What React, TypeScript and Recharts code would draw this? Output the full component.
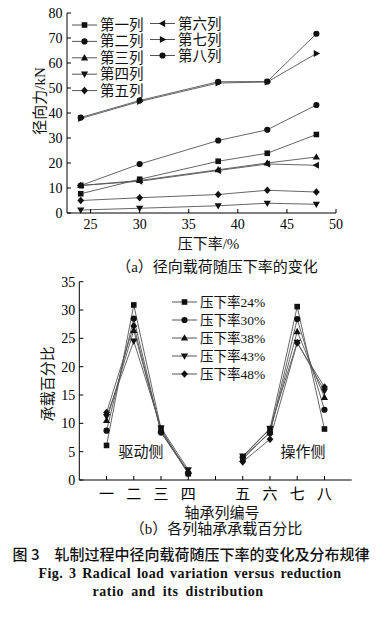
import React from "react";
import { LineChart, Line, XAxis, YAxis } from "recharts";

// (a) radial force vs reduction ratio
const reductionRates = [24, 30, 38, 43, 48];
const row1 = [7.7, 13.5, 20.7, 23.9, 31.4];
const row2 = [38.2, 45.0, 52.5, 52.6, 71.7];
const row3 = [11.0, 13.0, 17.3, 20.0, 22.4];
const row4 = [1.2, 1.9, 2.9, 3.9, 3.5];
const row5 = [5.0, 6.1, 7.4, 9.1, 8.4];
const row6 = [11.0, 12.7, 17.0, 19.6, 19.1];
const row7 = [37.8, 44.6, 52.0, 52.4, 63.8];
const row8 = [11.0, 19.6, 29.0, 33.3, 43.2];
const rowNames = ["第一列", "第二列", "第三列", "第四列", "第五列", "第六列", "第七列", "第八列"];
const rowShapes = ["square", "circle", "up", "down", "diamond", "left", "right", "circle"];
const rowSeries = [row1, row2, row3, row4, row5, row6, row7, row8];
const forceTicks = [0, 10, 20, 30, 40, 50, 60, 70, 80];
const rateTicks = [25, 30, 35, 40, 45, 50];

// (b) load share of each bearing row
const bearingPos = [1, 2, 3, 4, 5, 6, 7, 8, 9];
const bearingLabels = ["一", "二", "三", "四", "", "五", "六", "七", "八"];
const share24 = [6.1, 30.9, 9.0, 1.1, null, 4.1, 9.0, 30.6, 9.0];
const share30 = [8.7, 28.5, 8.4, 1.2, null, 4.0, 8.3, 28.4, 12.4];
const share38 = [10.5, 26.4, 8.7, 1.5, null, 3.7, 8.5, 26.2, 14.6];
const share43 = [11.2, 24.5, 9.2, 1.8, null, 4.2, 9.1, 24.3, 15.7];
const share48 = [11.9, 27.2, 8.5, 1.3, null, 3.2, 7.2, 24.2, 16.4];
const shareNames = ["压下率24%", "压下率30%", "压下率38%", "压下率43%", "压下率48%"];
const shareShapes = ["square", "circle", "up", "down", "diamond"];
const shareSeries = [share24, share30, share38, share43, share48];
const shareTicks = [0, 5, 10, 15, 20, 25, 30, 35];

const dataA = reductionRates.map((rate, i) => {
  const row: Record<string, number> = { rate };
  rowSeries.forEach((s, k) => (row["r" + k] = s[i]));
  return row;
});
const dataB = bearingPos.map((pos, i) => {
  const row: Record<string, number | null> = { pos };
  shareSeries.forEach((s, k) => (row["s" + k] = s[i]));
  return row;
});

const SERIF = "'Liberation Serif', 'Noto Sans CJK SC', serif";
const INK = "#111";
const LINE = "#555";

function Marker({ shape, cx, cy }: { shape: string; cx: number; cy: number }) {
  const s = 3.2;
  switch (shape) {
    case "square":
      return <rect x={cx - 2.8} y={cy - 2.8} width={5.6} height={5.6} fill={INK} />;
    case "circle":
      return <circle cx={cx} cy={cy} r={3.1} fill={INK} />;
    case "up":
      return <polygon points={`${cx},${cy - s - 0.6} ${cx + s + 0.4},${cy + s - 0.6} ${cx - s - 0.4},${cy + s - 0.6}`} fill={INK} />;
    case "down":
      return <polygon points={`${cx},${cy + s + 0.6} ${cx + s + 0.4},${cy - s + 0.6} ${cx - s - 0.4},${cy - s + 0.6}`} fill={INK} />;
    case "left":
      return <polygon points={`${cx - s - 0.6},${cy} ${cx + s - 0.6},${cy - s - 0.4} ${cx + s - 0.6},${cy + s + 0.4}`} fill={INK} />;
    case "right":
      return <polygon points={`${cx + s + 0.6},${cy} ${cx - s + 0.6},${cy - s - 0.4} ${cx - s + 0.6},${cy + s + 0.4}`} fill={INK} />;
    default:
      return <polygon points={`${cx},${cy - 3.8} ${cx + 3.4},${cy} ${cx},${cy + 3.8} ${cx - 3.4},${cy}`} fill={INK} />;
  }
}

const dotFor = (shape: string) => (p: any) =>
  p.cy == null || p.cx == null ? (
    <g key={`e-${p.index}`} />
  ) : (
    <Marker key={`d-${p.index}`} shape={shape} cx={p.cx} cy={p.cy} />
  );

const tickStyle = { fill: "#000", fontSize: 14, fontFamily: SERIF };

function LegendItem({ x, y, shape, name, size }: { x: number; y: number; shape: string; name: string; size: number }) {
  return (
    <g>
      <line x1={x} y1={y} x2={x + 25} y2={y} stroke={LINE} strokeWidth={1} />
      <Marker shape={shape} cx={x + 12.5} cy={y} />
      <text x={x + 28} y={y} dominantBaseline="central" fontSize={size} fontFamily={SERIF} fill="#111">
        {name}
      </text>
    </g>
  );
}

export default function App() {
  return (
    <div style={{ position: "absolute", left: 0, top: 0, width: 383, height: 617, background: "#fff" }}>
      <div style={{ position: "absolute", left: 0, top: 0 }}>
        <LineChart width={383} height={260} data={dataA} margin={{ top: 13, right: 47, left: 0, bottom: 8 }}>
          <XAxis
            dataKey="rate"
            type="number"
            domain={[22.6, 50]}
            ticks={rateTicks}
            stroke="#000"
            tick={tickStyle}
            tickSize={-4}
            tickMargin={10}
            height={39}
            label={{
              content: ({ viewBox }: any) => (
                <text x={viewBox.x + viewBox.width / 2 + 7} y={viewBox.y + 31} textAnchor="middle" dominantBaseline="central" fontSize={15} fontFamily={SERIF} fill="#111">
                  压下率/%
                </text>
              ),
            }}
          />
          <XAxis xAxisId="top" orientation="top" dataKey="rate" type="number" domain={[22.6, 50]} height={0} tick={false} tickLine={false} stroke="#000" />
          <YAxis
            type="number"
            domain={[0, 80]}
            ticks={forceTicks}
            stroke="#000"
            tick={tickStyle}
            tickSize={-4}
            tickMargin={8.5}
            width={67}
            label={{
              content: ({ viewBox }: any) => {
                const cx = 40;
                const cy = viewBox.y + viewBox.height / 2 - 12;
                return (
                  <text x={cx} y={cy} transform={`rotate(-90 ${cx} ${cy})`} textAnchor="middle" dominantBaseline="central" fontSize={15} fontFamily={SERIF} fill="#111">
                    径向力/kN
                  </text>
                );
              },
            }}
          />
          <YAxis yAxisId="right" orientation="right" domain={[0, 80]} width={0} tick={false} tickLine={false} stroke="#000" />
          {rowNames.map((name, k) => (
            <Line
              key={name}
              name={name}
              dataKey={"r" + k}
              stroke={LINE}
              strokeWidth={0.9}
              dot={dotFor(rowShapes[k])}
              isAnimationActive={false}
            />
          ))}
        </LineChart>
      </div>

      <div style={{ position: "absolute", left: 0, top: 270 }}>
        <LineChart width={383} height={240} data={dataB} margin={{ top: 11.7, right: 31.3, left: 0, bottom: 0 }}>
          <XAxis
            dataKey="pos"
            type="number"
            domain={[0, 10]}
            ticks={bearingPos}
            tickFormatter={(v: number) => bearingLabels[v - 1]}
            stroke="#000"
            tick={{ fill: "#000", fontSize: 15, fontFamily: SERIF }}
            tickSize={-4}
            tickMargin={12}
            height={30}
          />
          <XAxis xAxisId="top" orientation="top" dataKey="pos" type="number" domain={[0, 10]} height={0} tick={false} tickLine={false} stroke="#000" />
          <YAxis
            type="number"
            domain={[0, 35]}
            ticks={shareTicks}
            stroke="#000"
            tick={tickStyle}
            tickSize={-4}
            tickMargin={8}
            width={79.3}
            label={{
              content: ({ viewBox }: any) => {
                const cx = 48;
                const cy = viewBox.y + viewBox.height / 2 + 3;
                return (
                  <text x={cx} y={cy} transform={`rotate(-90 ${cx} ${cy})`} textAnchor="middle" dominantBaseline="central" fontSize={15} fontFamily={SERIF} fill="#111">
                    承载百分比
                  </text>
                );
              },
            }}
          />
          <YAxis yAxisId="right" orientation="right" domain={[0, 35]} width={0} tick={false} tickLine={false} stroke="#000" />
          {shareNames.map((name, k) => (
            <Line
              key={name}
              name={name}
              dataKey={"s" + k}
              stroke={LINE}
              strokeWidth={0.9}
              dot={dotFor(shareShapes[k])}
              isAnimationActive={false}
            />
          ))}
        </LineChart>
      </div>

      <svg width={383} height={617} style={{ position: "absolute", left: 0, top: 0, pointerEvents: "none" }}>
        {rowNames.slice(0, 5).map((n, k) => (
          <LegendItem key={n} x={72} y={25 + k * 16.4} shape={rowShapes[k]} name={n} size={14.5} />
        ))}
        {rowNames.slice(5).map((n, k) => (
          <LegendItem key={n} x={150} y={23.5 + k * 16} shape={rowShapes[k + 5]} name={n} size={14.5} />
        ))}
        {shareNames.map((n, k) => (
          <LegendItem key={n} x={172} y={302 + k * 18} shape={shareShapes[k]} name={n} size={13.5} />
        ))}
        <text x={141} y={452} textAnchor="middle" dominantBaseline="central" fontSize={15} fontFamily={SERIF} fill="#111">驱动侧</text>
        <text x={303} y={452} textAnchor="middle" dominantBaseline="central" fontSize={15} fontFamily={SERIF} fill="#111">操作侧</text>
        <text x={222} y={513} textAnchor="middle" dominantBaseline="central" fontSize={15} fontFamily={SERIF} fill="#111">轴承列编号</text>
        <text x={217} y={267} textAnchor="middle" dominantBaseline="central" fontSize={15} fontFamily={SERIF} fill="#111">（a）径向载荷随压下率的变化</text>
        <text x={216} y={529} textAnchor="middle" dominantBaseline="central" fontSize={15} fontFamily={SERIF} fill="#111">（b）各列轴承承载百分比</text>
        <text x={191} y={553} textAnchor="middle" dominantBaseline="central" fontSize={15} fontWeight={500} fontFamily="'Noto Sans CJK SC', sans-serif" fill="#111">图 3　轧制过程中径向载荷随压下率的变化及分布规律</text>
        <text x={190} y={573} textAnchor="middle" dominantBaseline="central" fontSize={14} fontWeight={700} letterSpacing={0.4} wordSpacing={2} fontFamily="'Liberation Serif', serif" fill="#111">Fig. 3 Radical load variation versus reduction</text>
        <text x={178} y={591} textAnchor="middle" dominantBaseline="central" fontSize={14} fontWeight={700} letterSpacing={0.6} wordSpacing={3} fontFamily="'Liberation Serif', serif" fill="#111">ratio and its distribution</text>
      </svg>
    </div>
  );
}
